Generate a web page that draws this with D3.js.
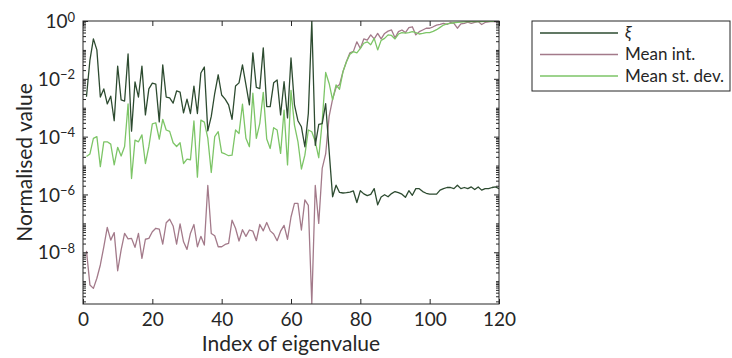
<!DOCTYPE html>
<html>
<head>
<meta charset="utf-8">
<script src="https://cdn.jsdelivr.net/npm/d3@7"></script>
<style>
  body { margin: 0; background: #fff; }
  text { font-family: Lato, "Open Sans", sans-serif; fill: #262626; }
</style>
</head>
<body>
<div id="chart"></div>
<script>
// log10 of the normalised values, eigenvalue index 1..120
const xiLog10 = [
  -2.62, -1.35, -0.62, -1.0, -2.63, -2.35, -2.87, -2.6, -3.45, -1.56,
  -2.73, -2.77, -1.14, -3.81, -2.11, -2.63, -1.56, -3.25, -2.35, -2.15,
  -2.18, -3.49, -1.52, -2.63, -2.66, -2.84, -2.42, -2.46, -3.18, -2.7,
  -3.2, -2.25, -3.2, -1.8, -1.59, -3.8, -3.3, -2.5, -1.86, -2.56,
  -2.7, -2.9, -3.4, -2.25, -2.14, -1.52, -2.2, -2.9, -1.1, -2.3,
  -2.34, -0.93, -2.96, -2.96, -2.14, -2.04, -3.25, -2.1, -3.35, -1.28,
  -2.9, -3.45, -3.66, -4.35, -3.2, 0, -4.3, -3.58, -3.55, -2.86,
  -4.5, -6.08, -5.68, -5.93, -5.95, -5.94, -5.92, -5.88, -6.28, -5.87,
  -5.98, -6.04, -6.0, -5.8, -6.36, -6.09, -6.01, -6.08, -5.97, -5.9,
  -5.94, -5.99, -6.1, -5.87, -6.03, -5.8, -5.8, -5.9, -5.96, -5.99,
  -5.99, -5.99, -5.85, -5.8, -5.76, -5.76, -5.8, -5.68, -5.8, -5.76,
  -5.8, -5.74, -5.83, -5.74, -5.85, -5.8, -5.8, -5.76, -5.74, -5.8
];
const meanIntLog10 = [
  -7.95, -9.13, -9.25, -8.9, -8.44, -7.81, -7.14, -7.58, -7.32, -8.64,
  -7.92, -7.35, -7.54, -7.52, -7.83, -7.35, -8.21, -7.55, -7.52, -7.29,
  -7.17, -7.2, -7.72, -6.98, -6.86, -7.09, -7.72, -7.02, -7.64, -7.9,
  -7.34, -7.04, -7.81, -7.45, -7.75, -5.69, -7.35, -7.43, -7.81, -7.81,
  -7.73, -7.69, -6.89, -7.17, -7.61, -7.22, -7.45, -7.23, -7.27, -7.6,
  -7.04, -7.26, -6.97, -7.26, -7.37, -7.6, -7.27, -7.07, -7.55, -6.78,
  -6.31, -6.31, -7.23, -6.19, -6.38, -9.77, -5.69, -7.0, -5.1, -4.6,
  -3.3, -2.7, -2.3, -2.2, -1.75, -1.4, -1.1, -1.05, -0.72, -0.95,
  -0.62, -0.66, -0.48, -0.62, -0.43, -0.62, -0.43, -0.35, -0.31, -0.58,
  -0.37, -0.31, -0.4, -0.23, -0.2, -0.48, -0.37, -0.31, -0.25, -0.25,
  -0.2, -0.14, -0.12, -0.08, -0.12, -0.05, -0.08, -0.25, -0.1, -0.08,
  -0.04, -0.08, -0.05, -0.02, -0.12, -0.05, -0.03, -0.01, -0.03, -0.01
];
const meanStdLog10 = [
  -4.69, -4.6, -4.06, -4.0, -5.04, -4.18, -4.18, -4.26, -4.98, -4.37,
  -4.67, -4.34, -2.87, -5.45, -4.12, -4.18, -3.94, -4.93, -4.34, -3.56,
  -3.52, -4.09, -3.4, -3.77, -3.82, -4.21, -4.34, -4.21, -4.93, -4.78,
  -4.8, -3.46, -5.4, -3.43, -3.5, -4.05, -5.24, -4.0, -3.83, -4.55,
  -4.6, -4.66, -4.64, -3.77, -3.89, -2.88, -4.06, -4.35, -2.5, -4.06,
  -3.54, -2.47, -4.08, -4.41, -3.69, -3.77, -4.58, -3.08, -4.98, -2.4,
  -3.6, -4.17, -5.12, -4.64, -3.77, -3.83, -4.17, -4.73, -3.48, -1.78,
  -2.16, -2.73, -2.21, -2.36, -1.75, -1.41, -1.15, -1.06, -1.1, -0.95,
  -0.77, -0.72, -0.82, -0.6, -1.0, -0.67, -0.6, -0.48, -0.5, -0.62,
  -0.45, -0.4, -0.42, -0.4, -0.37, -0.4, -0.45, -0.43, -0.4, -0.4,
  -0.36, -0.3, -0.22, -0.14, -0.1, -0.08, -0.06, -0.05, -0.04, -0.03,
  -0.02, -0.02, -0.02, -0.01, -0.02, -0.01, -0.01, 0, -0.01, 0
];
const seriesNames = ["\u03be", "Mean int.", "Mean st. dev."];
const seriesColors = ["#2d4b30", "#a37a8a", "#7dc567"];
const xTicks = [0, 20, 40, 60, 80, 100, 120];
const yTickExps = [0, -2, -4, -6, -8];

const width = 732, height = 358;
const margin = {top: 21, right: 233, bottom: 54, left: 83};
const plotW = width - margin.left - margin.right;
const plotH = height - margin.top - margin.bottom;

const svg = d3.select("#chart").append("svg")
    .attr("width", width)
    .attr("height", height);

const x = d3.scaleLinear().domain([0, 120]).range([0, plotW]);
const y = d3.scaleLog().domain([Math.pow(10, -9.79), 1]).range([plotH, 0]);

const g = svg.append("g").attr("transform", `translate(${margin.left},${margin.top})`);

g.append("clipPath").attr("id", "clip")
  .append("rect").attr("width", plotW).attr("height", plotH);

const series = [xiLog10, meanIntLog10, meanStdLog10].map((arr, k) => ({
    name: seriesNames[k],
    color: seriesColors[k],
    values: arr.map((e, i) => ({i: i + 1, v: Math.pow(10, e)}))
}));

const line = d3.line().x(d => x(d.i)).y(d => y(d.v));

// draw order: mean int first, then st. dev., xi on top
[1, 2, 0].forEach(k => {
    g.append("path")
        .datum(series[k].values)
        .attr("clip-path", "url(#clip)")
        .attr("fill", "none")
        .attr("stroke", series[k].color)
        .attr("stroke-width", 1.3)
        .attr("stroke-linejoin", "round")
        .attr("d", line);
});

// minor log ticks
let minor = [];
for (let d = -10; d < 0; d++) {
    for (let m = 2; m <= 9; m++) {
        let v = m * Math.pow(10, d);
        if (v >= y.domain()[0] && v <= 1) minor.push(v);
    }
}
for (let d = -9; d <= 0; d += 2) minor.push(Math.pow(10, d));

function styleAxis(sel) {
    sel.select(".domain").remove();
    sel.selectAll("line").attr("stroke", "#262626");
}

g.append("g").call(d3.axisLeft(y).tickValues(minor).tickSize(-3).tickFormat("")).call(styleAxis);
g.append("g").attr("transform", `translate(${plotW},0)`)
    .call(d3.axisRight(y).tickValues(minor).tickSize(-3).tickFormat("")).call(styleAxis);

const yMajor = yTickExps.map(e => Math.pow(10, e));
const yAxis = g.append("g").call(d3.axisLeft(y).tickValues(yMajor).tickSize(-5).tickPadding(8).tickFormat(""));
styleAxis(yAxis);
yAxis.selectAll(".tick text").remove();
yAxis.selectAll(".tick").append("text")
    .attr("x", -8)
    .attr("dy", "0.35em")
    .attr("text-anchor", "end")
    .style("font-size", "19px")
    .each(function(d) {
        const t = d3.select(this);
        t.append("tspan").text("10");
        t.append("tspan").attr("dy", "-0.5em").style("font-size", "13px")
            .text(Math.round(Math.log10(d)) === 0 ? "0" : "\u2212" + (-Math.round(Math.log10(d))));
    });
g.append("g").attr("transform", `translate(${plotW},0)`)
    .call(d3.axisRight(y).tickValues(yMajor).tickSize(-5).tickFormat("")).call(styleAxis);

const xAxis = g.append("g").attr("transform", `translate(0,${plotH})`)
    .call(d3.axisBottom(x).tickValues(xTicks).tickSize(-5).tickPadding(9));
styleAxis(xAxis);
xAxis.selectAll("text").style("font-size", "19px").attr("fill", "#262626").attr("dy", "0.71em");
g.append("g").call(d3.axisTop(x).tickValues(xTicks).tickSize(-5).tickFormat("")).call(styleAxis);

// frame
g.append("rect").attr("width", plotW).attr("height", plotH)
    .attr("fill", "none").attr("stroke", "#262626").attr("stroke-width", 1);

// axis labels
svg.append("text")
    .attr("x", margin.left + plotW / 2)
    .attr("y", 351)
    .attr("text-anchor", "middle")
    .style("font-size", "21px")
    .text("Index of eigenvalue");
svg.append("text")
    .attr("transform", `translate(32,${margin.top + plotH / 2}) rotate(-90)`)
    .attr("text-anchor", "middle")
    .style("font-size", "21px")
    .text("Normalised value");

// legend
const leg = svg.append("g").attr("transform", "translate(532,21)");
leg.append("rect").attr("width", 198).attr("height", 70)
    .attr("fill", "#fff").attr("stroke", "#262626").attr("stroke-width", 1);
series.forEach((s, k) => {
    const ly = 12 + k * 21.5;
    leg.append("line").attr("x1", 8).attr("x2", 86).attr("y1", ly).attr("y2", ly)
        .attr("stroke", s.color).attr("stroke-width", 1.3);
    leg.append("text").attr("x", 93).attr("y", ly).attr("dy", "0.35em")
        .style("font-size", "17px")
        .style("font-style", k === 0 ? "italic" : "normal")
        .text(s.name);
});
</script>
</body>
</html>
